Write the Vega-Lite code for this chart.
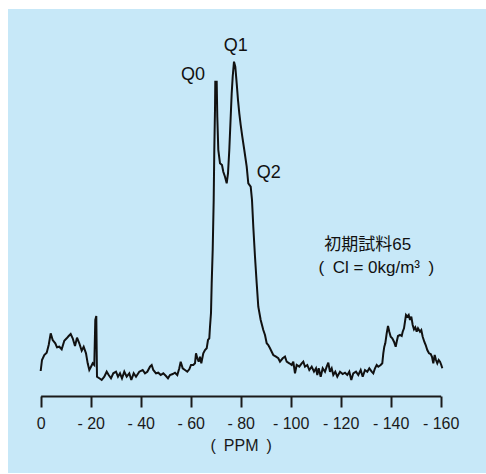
{
  "$schema": "https://vega.github.io/schema/vega-lite/v6.json",
  "autosize": "none",
  "width": 478,
  "height": 464,
  "padding": {"left": 8, "top": 9, "right": 0, "bottom": 1},
  "background": "#ffffff",
  "config": {
    "view": {"stroke": null, "fill": "#c7e8f8"},
    "font": "Liberation Sans, Noto Sans CJK JP"
  },
  "datasets": {
    "spectrum": [
      {"p": 0.0, "i": 102}, {"p": -0.53, "i": 113}, {"p": -1.45, "i": 118}, {"p": -2.41, "i": 120.3}, {"p": -3.21, "i": 128},
      {"p": -4.01, "i": 139.7}, {"p": -4.81, "i": 133}, {"p": -5.85, "i": 129.7}, {"p": -6.53, "i": 125.7}, {"p": -7.45, "i": 126.3},
      {"p": -8.41, "i": 123.7}, {"p": -9.45, "i": 132.3}, {"p": -10.41, "i": 134.7}, {"p": -11.21, "i": 137}, {"p": -12.01, "i": 139},
      {"p": -12.81, "i": 134.7}, {"p": -13.73, "i": 127}, {"p": -14.53, "i": 135.3}, {"p": -15.45, "i": 129.7}, {"p": -16.41, "i": 122.3},
      {"p": -17.21, "i": 126.3}, {"p": -18.13, "i": 119.7}, {"p": -18.81, "i": 109.7}, {"p": -19.45, "i": 103}, {"p": -20.13, "i": 106.3},
      {"p": -20.81, "i": 109.7}, {"p": -21.45, "i": 108}, {"p": -21.85, "i": 153}, {"p": -22.25, "i": 157}, {"p": -22.53, "i": 96.3},
      {"p": -23.45, "i": 94.7}, {"p": -24.41, "i": 93}, {"p": -25.45, "i": 96.3}, {"p": -26.41, "i": 101.3}, {"p": -27.21, "i": 98},
      {"p": -28.13, "i": 94.7}, {"p": -29.05, "i": 99.7}, {"p": -30.13, "i": 101.3}, {"p": -30.93, "i": 96.3}, {"p": -31.73, "i": 99.7},
      {"p": -32.53, "i": 94.7}, {"p": -33.45, "i": 101.3}, {"p": -34.41, "i": 96.3}, {"p": -35.45, "i": 99.7}, {"p": -36.25, "i": 93},
      {"p": -37.21, "i": 99.7}, {"p": -38.13, "i": 96.3}, {"p": -39.45, "i": 101.3}, {"p": -40.81, "i": 103}, {"p": -41.73, "i": 99.7},
      {"p": -42.65, "i": 101.3}, {"p": -43.73, "i": 106.3}, {"p": -44.41, "i": 108}, {"p": -45.05, "i": 103}, {"p": -46.13, "i": 99.7},
      {"p": -47.05, "i": 100.3}, {"p": -48.01, "i": 98}, {"p": -49.05, "i": 99.7}, {"p": -50.13, "i": 97}, {"p": -50.93, "i": 94.7},
      {"p": -51.73, "i": 98}, {"p": -52.81, "i": 99}, {"p": -53.73, "i": 100.3}, {"p": -54.65, "i": 98}, {"p": -55.45, "i": 104.7},
      {"p": -56.01, "i": 111.3}, {"p": -56.81, "i": 104.7}, {"p": -57.73, "i": 103}, {"p": -58.65, "i": 101.3}, {"p": -59.45, "i": 103.7},
      {"p": -60.13, "i": 108}, {"p": -61.05, "i": 108}, {"p": -61.73, "i": 109.7}, {"p": -62.13, "i": 119.7}, {"p": -62.65, "i": 114.7},
      {"p": -63.21, "i": 111.3}, {"p": -63.73, "i": 116.3}, {"p": -64.25, "i": 109.7}, {"p": -65.05, "i": 119.7}, {"p": -65.73, "i": 123},
      {"p": -66.41, "i": 124.7}, {"p": -66.93, "i": 133}, {"p": -67.45, "i": 134.7}, {"p": -67.73, "i": 146.3}, {"p": -68.13, "i": 160},
      {"p": -68.41, "i": 189.7}, {"p": -68.81, "i": 223}, {"p": -69.21, "i": 273}, {"p": -69.45, "i": 323}, {"p": -69.73, "i": 363},
      {"p": -69.85, "i": 391.3}, {"p": -70.41, "i": 391.3}, {"p": -70.65, "i": 356.3}, {"p": -71.05, "i": 323}, {"p": -71.73, "i": 309.7},
      {"p": -72.53, "i": 308}, {"p": -73.05, "i": 301.3}, {"p": -73.73, "i": 296.3}, {"p": -74.41, "i": 289.7}, {"p": -74.93, "i": 299.7},
      {"p": -75.45, "i": 323}, {"p": -76.01, "i": 356.3}, {"p": -76.41, "i": 379.7}, {"p": -76.81, "i": 396.3}, {"p": -77.33, "i": 411.3},
      {"p": -77.85, "i": 406.3}, {"p": -78.41, "i": 389.7}, {"p": -78.93, "i": 373}, {"p": -79.45, "i": 359.7}, {"p": -80.01, "i": 348},
      {"p": -80.65, "i": 336.3}, {"p": -81.45, "i": 323}, {"p": -82.41, "i": 306.3}, {"p": -83.05, "i": 289.7}, {"p": -84.01, "i": 286.3},
      {"p": -84.53, "i": 273}, {"p": -85.05, "i": 246.3}, {"p": -85.73, "i": 216.3}, {"p": -86.41, "i": 189.7}, {"p": -87.05, "i": 166.3},
      {"p": -88.01, "i": 153}, {"p": -89.05, "i": 143}, {"p": -89.73, "i": 138}, {"p": -90.41, "i": 129.7}, {"p": -91.05, "i": 128},
      {"p": -91.73, "i": 124.7}, {"p": -92.41, "i": 121.3}, {"p": -93.05, "i": 118}, {"p": -94.13, "i": 116.3}, {"p": -95.05, "i": 114.7},
      {"p": -95.73, "i": 111.3}, {"p": -96.81, "i": 114.7}, {"p": -97.73, "i": 116.3}, {"p": -98.41, "i": 111.3}, {"p": -99.45, "i": 109.7},
      {"p": -100.41, "i": 108}, {"p": -101.05, "i": 111.3}, {"p": -101.73, "i": 99.7}, {"p": -102.41, "i": 108}, {"p": -103.45, "i": 106.3},
      {"p": -104.41, "i": 109.7}, {"p": -105.05, "i": 111.3}, {"p": -105.73, "i": 106.3}, {"p": -106.65, "i": 108}, {"p": -107.45, "i": 103},
      {"p": -108.41, "i": 106.3}, {"p": -109.33, "i": 101.3}, {"p": -110.13, "i": 104.7}, {"p": -110.65, "i": 98}, {"p": -111.21, "i": 104.7},
      {"p": -112.01, "i": 96.3}, {"p": -112.81, "i": 104.7}, {"p": -113.73, "i": 101.3}, {"p": -114.41, "i": 106.3}, {"p": -115.05, "i": 110.3},
      {"p": -115.73, "i": 101.3}, {"p": -116.41, "i": 104.7}, {"p": -117.05, "i": 98}, {"p": -117.85, "i": 101.3}, {"p": -118.65, "i": 96.3},
      {"p": -119.73, "i": 101.3}, {"p": -120.81, "i": 99}, {"p": -121.73, "i": 100.3}, {"p": -122.65, "i": 98}, {"p": -123.45, "i": 101.3},
      {"p": -124.25, "i": 93}, {"p": -125.05, "i": 99.7}, {"p": -126.13, "i": 101.3}, {"p": -127.05, "i": 98}, {"p": -128.01, "i": 103},
      {"p": -128.81, "i": 96.3}, {"p": -129.73, "i": 103}, {"p": -130.65, "i": 101.3}, {"p": -131.45, "i": 104.7}, {"p": -132.41, "i": 101.3},
      {"p": -133.05, "i": 99.7}, {"p": -133.73, "i": 104.7}, {"p": -134.41, "i": 108}, {"p": -135.05, "i": 106.3}, {"p": -136.01, "i": 108},
      {"p": -136.65, "i": 109.7}, {"p": -137.05, "i": 119.7}, {"p": -137.45, "i": 126.3}, {"p": -137.85, "i": 129.7}, {"p": -138.41, "i": 139.7},
      {"p": -138.93, "i": 147}, {"p": -139.45, "i": 141.3}, {"p": -140.01, "i": 136.3}, {"p": -140.65, "i": 134.7}, {"p": -141.33, "i": 131.3},
      {"p": -142.01, "i": 126.3}, {"p": -142.41, "i": 131.3}, {"p": -142.93, "i": 137}, {"p": -143.73, "i": 138}, {"p": -144.41, "i": 137},
      {"p": -144.81, "i": 141.3}, {"p": -145.33, "i": 144.7}, {"p": -145.73, "i": 151.3}, {"p": -146.13, "i": 158}, {"p": -146.65, "i": 156.3},
      {"p": -147.21, "i": 158}, {"p": -147.73, "i": 153}, {"p": -148.25, "i": 156.3}, {"p": -148.81, "i": 148}, {"p": -149.33, "i": 143.7},
      {"p": -149.85, "i": 145.7}, {"p": -150.41, "i": 141.3}, {"p": -150.93, "i": 144.7}, {"p": -151.73, "i": 141.3}, {"p": -152.25, "i": 143},
      {"p": -152.81, "i": 136.3}, {"p": -153.45, "i": 131.3}, {"p": -154.01, "i": 128}, {"p": -154.65, "i": 123}, {"p": -155.33, "i": 119.7},
      {"p": -156.01, "i": 119}, {"p": -156.53, "i": 116.3}, {"p": -157.05, "i": 109.7}, {"p": -157.61, "i": 118}, {"p": -158.13, "i": 113},
      {"p": -158.65, "i": 109.7}, {"p": -159.21, "i": 113}, {"p": -159.73, "i": 111.3}, {"p": -160.25, "i": 108}, {"p": -160.65, "i": 104.7}
    ],
    "labels": [
      {"p": -60.93, "i": 398.5, "t": "Q0", "g": "q"},
      {"p": -78.01, "i": 426.7, "t": "Q1", "g": "q"},
      {"p": -91.21, "i": 299.7, "t": "Q2", "g": "q"},
      {"p": -130.85, "i": 228.2, "t": "初期試料65", "g": "s"},
      {"p": -134.27, "i": 204.7, "t": "(\u2002Cl = 0kg/m³\u2002)", "g": "s"}
    ]
  },
  "encoding": {
    "x": {
      "field": "p",
      "type": "quantitative",
      "scale": {"domain": [0, -160], "range": [32.67, 432.67], "nice": false, "zero": false},
      "axis": {
        "values": [0, -20, -40, -60, -80, -100, -120, -140, -160],
        "labelExpr": "datum.value == 0 ? '0' : '- ' + abs(datum.value)",
        "offset": -77,
        "grid": false,
        "domainColor": "#1a1a1a",
        "domainWidth": 2,
        "tickColor": "#1a1a1a",
        "tickWidth": 2,
        "tickSize": 11,
        "labelFont": "Liberation Sans",
        "labelFontSize": 16,
        "labelColor": "#1a1a1a",
        "labelPadding": 8,
        "labelFlush": false,
        "labelOverlap": false,
        "title": "(\u2002PPM\u2002)",
        "titleFont": "Liberation Sans",
        "titleFontSize": 16,
        "titleFontWeight": "normal",
        "titleColor": "#1a1a1a",
        "titlePadding": 6
      }
    },
    "y": {
      "field": "i",
      "type": "quantitative",
      "scale": {"domain": [0, 464], "nice": false, "zero": false},
      "axis": null
    }
  },
  "layer": [
    {
      "data": {"name": "spectrum"},
      "mark": {"type": "line", "color": "#111111", "strokeWidth": 2, "strokeJoin": "miter", "strokeMiterLimit": 3}
    },
    {
      "data": {"name": "labels"},
      "transform": [{"filter": "datum.g == 'q'"}],
      "mark": {"type": "text", "fontSize": 18, "color": "#111111", "align": "center", "baseline": "middle"},
      "encoding": {"text": {"field": "t"}}
    },
    {
      "data": {"name": "labels"},
      "transform": [{"filter": "datum.g == 's'"}],
      "mark": {"type": "text", "fontSize": 17, "color": "#111111", "align": "center", "baseline": "middle"},
      "encoding": {"text": {"field": "t"}}
    }
  ]
}
